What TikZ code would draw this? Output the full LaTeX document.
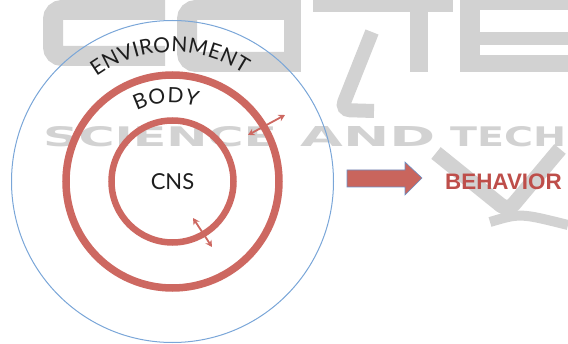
\documentclass[tikz,border=0pt]{standalone}
\usepackage{graphicx}
\usepackage{fontspec}
\setmainfont{Lato}
\newfontfamily\labelfont{Lato}
\newfontfamily\headfont{Liberation Sans}
\newfontfamily\markfont{DejaVu Sans}
\usetikzlibrary{arrows.meta,decorations.text}

\definecolor{ringred}{RGB}{205,104,97}
\definecolor{blockred}{RGB}{201,101,93}
\definecolor{behred}{RGB}{190,78,74}
\definecolor{envblue}{RGB}{122,166,216}
\definecolor{edgeblue}{RGB}{105,145,200}
\definecolor{wmgray}{RGB}{210,210,210}
\definecolor{ink}{RGB}{30,30,30}

\begin{document}
\begin{tikzpicture}[x=1pt,y=1pt,
  ringline/.style={circle, draw=ringred, inner sep=0pt},
  link/.style={draw=ringred, line width=1.8pt,
    {Stealth[length=6.5pt,width=7pt]}-{Stealth[length=6.5pt,width=7pt]}},
  lbl/.style={font=\labelfont\fontsize{22}{26}\selectfont, text=ink, inner sep=0pt},
  wmstroke/.style={draw=wmgray, line cap=butt, rounded corners=9pt},
  wmtext/.style={anchor=south west, inner sep=0pt, text=wmgray, font=\markfont\bfseries}
]
\useasboundingbox (0,0) rectangle (568,343);

% faint background lettering, drawn first so everything else lies on top
\begin{scope}
  \clip (0,0) rectangle (568,343);
  \draw[wmstroke, line width=20pt] (165,333) -- (53,333) -- (53,287) -- (165,287);
  \draw[wmstroke, line width=20pt] (287,333) -- (187,333) -- (187,281) -- (287,281);
  \draw[wmstroke, line width=17pt] (292.5,350) -- (292.5,271);
  \draw[wmstroke, line width=17pt] (313,339.5) -- (453,339.5);
  \draw[wmstroke, line width=18pt] (419,345) -- (419,271);
  \draw[wmstroke, line width=14pt] (372,311) -- (341,233) -- (374,232);
  \draw[wmstroke, line width=20pt] (470,350) -- (470,271);
  \draw[wmstroke, line width=16pt] (470,341) -- (580,341);
  \draw[wmstroke, line width=13pt] (470,304.5) -- (580,304.5);
  \draw[wmstroke, line width=17pt] (470,279.5) -- (580,279.5);
  \node[wmtext] (w1) at (43,196) {\resizebox{234pt}{20pt}{SCIENCE}};
  \node[wmtext] (w2) at (300,196) {\resizebox{135pt}{20pt}{AND}};
  \node[wmtext] (w3) at (450,196) {\resizebox{116pt}{20pt}{TECH}};
  \draw[wmstroke, line width=15pt] (436,190) -- (508,132) -- (560,194);
  \draw[wmstroke, line width=10pt] (490,121) .. controls (520,130) .. (568,118);
\end{scope}

% nested spheres: environment, body, central nervous system
\coordinate (c) at (172.5,161.5);
\node[circle, draw=envblue, line width=1pt, inner sep=0pt, minimum size=322pt] (env) at (c) {};
\node[ringline, line width=7.5pt, minimum size=213pt] (body) at (c) {};
\node[ringline, line width=6.5pt, minimum size=122pt] (cnsring) at (c) {};

% curved labels
\path[decorate, decoration={text along path, text align=fit to path,
    text={|\labelfont\fontsize{21}{25}\selectfont\color{ink}|ENVIRONMENT}}]
  (c) ++(126:129.5) arc[start angle=126, end angle=56.5, radius=129.5];
\path[decorate, decoration={text along path, text align=fit to path,
    text={|\labelfont\fontsize{21}{25}\selectfont\color{ink}|BODY}}]
  (c) ++(117:79) arc[start angle=117, end angle=72, radius=79];
\node[lbl, anchor=base] (cns) at (172.5,153) {CNS};

% exchanges across the boundaries
\coordinate (ua) at (248,208);
\coordinate (ub) at (285,228);
\coordinate (la) at (193,125);
\coordinate (lb) at (212,96);
\draw[link] (ua) -- (ub);
\draw[link] (la) -- (lb);

% output
\node[font=\headfont\bfseries\fontsize{22.4}{26}\selectfont, text=behred,
      inner sep=0pt, anchor=base west] (behavior) at (445,153) {BEHAVIOR};
\filldraw[fill=blockred, draw=edgeblue, line width=0.6pt, line join=miter]
  (347,173) -- (405,173) -- (405,181) -- (422,165) -- (405,148)
  -- (405,156) -- (347,156) -- cycle;
\end{tikzpicture}
\end{document}
